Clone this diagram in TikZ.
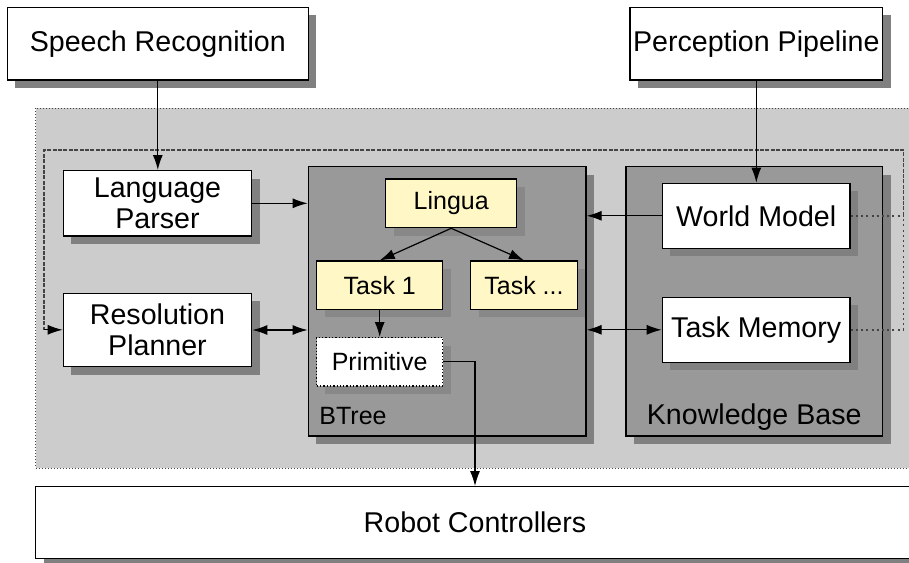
\documentclass[tikz,border=0pt]{standalone}
\usepackage{fontspec}
\setmainfont{Liberation Sans}
\usetikzlibrary{arrows.meta,shadows,calc}
\definecolor{outerbg}{HTML}{CCCCCC}
\definecolor{grpbg}{HTML}{999999}
\definecolor{shadowc}{HTML}{808080}
\definecolor{ishadow}{HTML}{888888}
\definecolor{noteyel}{HTML}{FFF8C6}
\definecolor{loopc}{HTML}{444444}
\tikzset{
  bigfont/.style={font=\fontsize{14.3pt}{15.3pt}\selectfont},
  smallfont/.style={font=\fontsize{12.5pt}{14pt}\selectfont},
  box/.style={draw=black, line width=0.65pt, fill=white, inner sep=0pt, align=center,
    drop shadow={shadow xshift=4pt, shadow yshift=-4pt, fill=shadowc, opacity=1}},
  ibox/.style={draw=black, line width=0.65pt, fill=noteyel, inner sep=0pt, align=center, smallfont,
    drop shadow={shadow xshift=4pt, shadow yshift=-4pt, fill=ishadow, opacity=1}},
  grp/.style={draw=black, line width=0.65pt, fill=grpbg, inner sep=0pt,
    drop shadow={shadow xshift=4pt, shadow yshift=-4pt, fill=shadowc, opacity=1}},
  conn/.style={line width=0.6pt, -{Latex[length=7.5pt,width=5pt]}},
  bconn/.style={line width=0.6pt, {Latex[length=7.5pt,width=5pt]}-{Latex[length=7.5pt,width=5pt]}},
  fdot/.style={line width=0.75pt, dash pattern=on 1pt off 1.6pt, draw=loopc},
  fdash/.style={line width=0.7pt, dash pattern=on 2pt off 0.7pt, draw=loopc},
}
\begin{document}
\begin{tikzpicture}[x=0.5pt,y=-0.5pt]
\useasboundingbox (0,0) rectangle (909,562);
\clip (0,0) rectangle (909,562);
\fill[white] (0,0) rectangle (909,562);
% outer region
\draw[fill=outerbg, draw=loopc, densely dotted, line width=0.5pt] (35.7,108.3) rectangle (916,468.3);
% top boxes
\node[box, bigfont, minimum width=150.5pt, minimum height=36.35pt] (sr) at (157.8,43.7) {Speech Recognition};
\node[box, bigfont, minimum width=126.35pt, minimum height=36.35pt] (pp) at (756.3,43.7) {Perception Pipeline};
% groups
\node[grp, minimum width=138.85pt, minimum height=134.65pt] (bt) at (447.15,301.35) {};
\node[grp, minimum width=128.35pt, minimum height=134.65pt] (kb) at (754.35,301.35) {};
\node[smallfont, anchor=base west, inner sep=0pt] (btl) at (319,424.3) {BTree};
\node[bigfont, anchor=base, inner sep=0pt] (kbl) at (754.2,424) {Knowledge Base};
% left boxes
\node[box, bigfont, minimum width=94.2pt, minimum height=32.65pt] (lp) at (157.5,203.3) {Language\\Parser};
\node[box, bigfont, minimum width=94.2pt, minimum height=36.7pt] (rp) at (157.5,330) {Resolution\\Planner};
% BTree content
\node[ibox, minimum width=65.5pt, minimum height=24.35pt] (li) at (451.2,203.3) {Lingua};
\node[ibox, minimum width=63pt, minimum height=24.15pt] (t1) at (379.7,285.2) {Task 1};
\node[ibox, minimum width=53.3pt, minimum height=24.15pt] (tx) at (524,285.2) {Task ...};
\node[box, smallfont, densely dotted, minimum width=63pt, minimum height=24.15pt,
  drop shadow={shadow xshift=4pt, shadow yshift=-4pt, fill=ishadow, opacity=1}] (pr) at (379.7,361.8) {Primitive};
% KB content
\node[box, bigfont, minimum width=93.85pt, minimum height=32.5pt] (wm) at (756.2,215.8) {World Model};
\node[box, bigfont, minimum width=93.85pt, minimum height=32.5pt] (tm) at (756.2,329.8) {Task Memory};
% robot controllers
\node[box, bigfont, minimum width=439.3pt, minimum height=35.8pt] (rc) at (475,522.5) {Robot Controllers};
% feedback loop
\coordinate (wmr) at (903.3,215.8);
\coordinate (tmr) at (903.3,329.8);
\coordinate (tr) at (903.3,150);
\coordinate (tl) at (44,150);
\coordinate (bl) at (44,329.8);
\draw[fdot] (wm.east) -- (wmr);
\draw[fdot] (tm.east) -- (tmr) -- (wmr);
\draw[fdash] (wmr) -- (tr) -- (tl) -- (bl);
\draw[conn] (bl) -- (bl -| rp.west);
% connectors
\draw[conn] (sr.south) -- (sr.south |- lp.north);
\draw[conn] (pp.south) -- (pp.south |- wm.north);
\draw[conn] (lp.east) -- (lp.east -| bt.west);
\draw[bconn] (rp.east) -- (rp.east -| bt.west);
\draw[conn] (wm.west) -- (wm.west -| bt.east);
\draw[bconn] (tm.west -| bt.east) -- (tm.west);
\draw[conn] (li.south) -- (t1.north);
\draw[conn] (li.south) -- (tx.north);
\draw[conn] (t1.south) -- (pr.north);
\draw[conn] (pr.east) -| (rc.north);
\end{tikzpicture}
\end{document}
